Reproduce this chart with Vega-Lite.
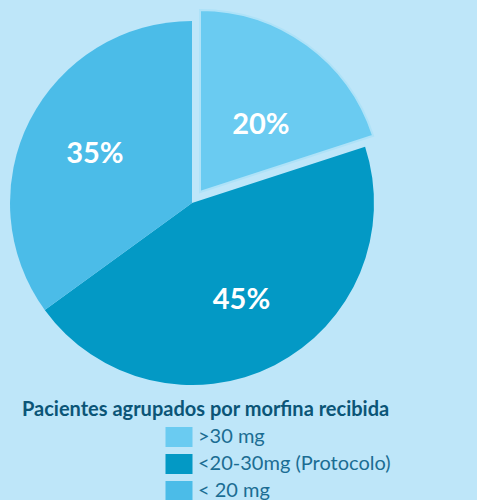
{
  "$schema": "https://vega.github.io/schema/vega-lite/v6.json",
  "width": 467,
  "height": 488,
  "padding": {"left": 10, "top": 12, "right": 0, "bottom": 0},
  "autosize": {"type": "none"},
  "background": "#bee6f9",
  "view": {"fill": "#bee6f9", "stroke": null},
  "config": {
    "view": {"fill": "#bee6f9", "stroke": null},
    "font": "Lato"
  },
  "data": {
    "values": [
      {"i": 1, "grupo": ">30 mg", "pct": 20, "label": "20%"},
      {"i": 2, "grupo": "<20-30mg (Protocolo)", "pct": 45, "label": "45%"},
      {"i": 3, "grupo": "< 20 mg", "pct": 35, "label": "35%"}
    ]
  },
  "encoding": {
    "theta": {"field": "pct", "type": "quantitative", "stack": true},
    "order": {"field": "i", "type": "quantitative", "sort": "ascending"}
  },
  "layer": [
    {
      "mark": {"type": "arc", "x": 182, "y": 191, "outerRadius": 182},
      "encoding": {
        "color": {
          "field": "grupo",
          "type": "nominal",
          "scale": {
            "domain": [">30 mg", "<20-30mg (Protocolo)", "< 20 mg"],
            "range": ["#6acbf1", "#0399c5", "#4bbce8"]
          },
          "legend": {
            "title": "Pacientes agrupados por morfina recibida",
            "orient": "none",
            "legendX": 12,
            "legendY": 388,
            "padding": 0,
            "titleFont": "Lato",
            "titleFontSize": 20,
            "titleFontWeight": "bold",
            "titleColor": "#0b5577",
            "titleLimit": 600,
            "titlePadding": 7,
            "symbolType": "M-1.35,-1H1.35V1H-1.35Z",
            "symbolSize": 400,
            "symbolStrokeWidth": 0,
            "symbolOpacity": 1,
            "symbolOffset": 147,
            "labelFont": "Lato",
            "labelFontSize": 20,
            "labelColor": "#1b6d93",
            "labelLimit": 400,
            "labelOffset": 9,
            "rowPadding": 7
          }
        },
        "opacity": {"condition": {"test": "datum.grupo === '>30 mg'", "value": 0}, "value": 1}
      }
    },
    {
      "mark": {"type": "arc", "x": 190, "y": 180, "outerRadius": 182, "stroke": "#aee2f8", "strokeWidth": 2},
      "encoding": {
        "color": {"field": "grupo", "type": "nominal"},
        "opacity": {"condition": {"test": "datum.grupo === '>30 mg'", "value": 1}, "value": 0}
      }
    },
    {
      "mark": {"type": "text", "x": 182, "y": 191, "radius": 109, "fontSize": 29, "fontWeight": "bold", "color": "white", "align": "center", "baseline": "middle"},
      "encoding": {
        "text": {"field": "label"},
        "opacity": {"condition": {"test": "datum.grupo === '>30 mg'", "value": 0}, "value": 1}
      }
    },
    {
      "mark": {"type": "text", "x": 190, "y": 180, "radius": 90, "dx": 8, "dy": 6, "fontSize": 29, "fontWeight": "bold", "color": "white", "align": "center", "baseline": "middle"},
      "encoding": {
        "text": {"field": "label"},
        "opacity": {"condition": {"test": "datum.grupo === '>30 mg'", "value": 1}, "value": 0}
      }
    }
  ]
}
